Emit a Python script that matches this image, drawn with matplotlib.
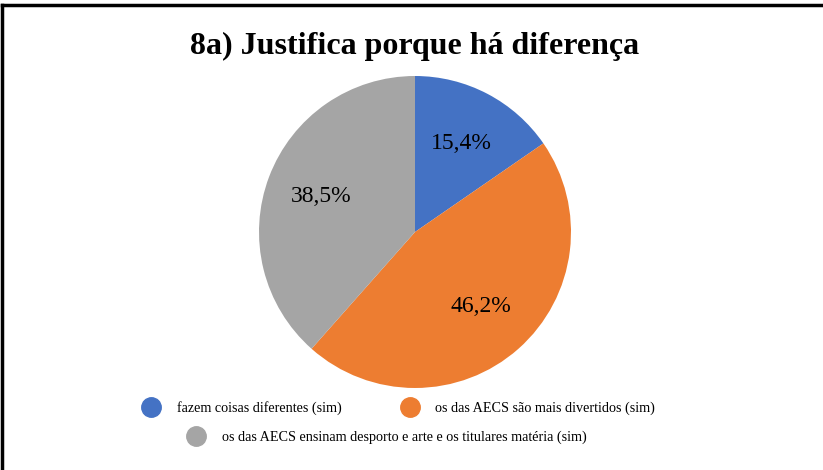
import matplotlib.pyplot as plt
from matplotlib.lines import Line2D

plt.rcParams['font.family'] = ['Liberation Serif', 'DejaVu Serif']

title = "8a) Justifica porque há diferença"
labels = ["fazem coisas diferentes (sim)",
          "os das AECS são mais divertidos (sim)",
          "os das AECS ensinam desporto e arte e os titulares matéria (sim)"]
values = [15.4, 46.2, 38.5]
colors = ["#4472C4", "#ED7D31", "#A5A5A5"]

fig = plt.figure(figsize=(8.23, 4.70), dpi=100)

# frame lines (top and left edges as in the reference)
fig.add_artist(Line2D([0.003, 1.0], [0.989, 0.989], color="black", lw=2.5, transform=fig.transFigure))
fig.add_artist(Line2D([0.003, 0.003], [0.0, 0.989], color="black", lw=2.5, transform=fig.transFigure))

fig.text(0.504, 0.902, title, ha="center", va="center", fontsize=23, fontweight="bold")

ax = fig.add_axes([0.3147, 0.1745, 0.3791, 0.6638])
wedges, texts, autotexts = ax.pie(values, colors=colors, startangle=90, counterclock=False,
                                  autopct=lambda p: f"{p:.1f}%".replace(".", ","),
                                  pctdistance=0.64, radius=1.0,
                                  textprops={"fontsize": 17, "color": "black"})
ax.set_xlim(-1, 1)
ax.set_ylim(-1, 1)
ax.set_aspect("equal")

handles = [Line2D([], [], marker="o", linestyle="none", markersize=14,
                  markerfacecolor=c, markeredgecolor=c) for c in colors]

fig.legend(handles[:2], labels[:2], ncol=2, loc="center",
           bbox_to_anchor=(0.4855, 1 - 408 / 470), frameon=False,
           fontsize=10.2, handletextpad=1.3, columnspacing=4.3, handlelength=1.0)
fig.legend(handles[2:], labels[2:], ncol=1, loc="center",
           bbox_to_anchor=(0.471, 1 - 437 / 470), frameon=False,
           fontsize=10.2, handletextpad=1.3, handlelength=1.0)

fig.savefig("out.png", dpi=100, facecolor="white")
